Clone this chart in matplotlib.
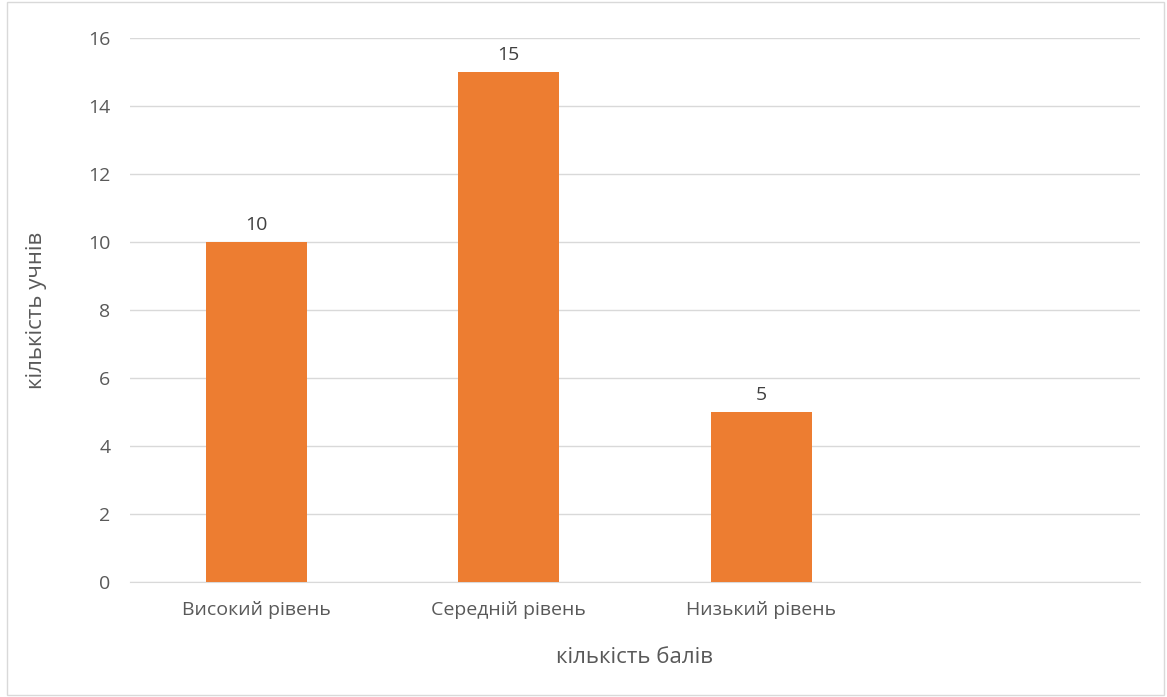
import numpy as np
import matplotlib.pyplot as plt
from matplotlib.patches import Rectangle

# chart data
categories = ['Високий рівень', 'Середній рівень', 'Низький рівень']
values = [10, 15, 5]
n_slots = 4  # Excel chart keeps an empty fourth category
y_ticks = [0, 2, 4, 6, 8, 10, 12, 14, 16]

bar_color = '#ED7D31'
text_color = '#595959'
grid_color = '#D9D9D9'

plt.rcParams['font.family'] = ['Open Sans', 'DejaVu Sans']

fig = plt.figure(figsize=(11.67, 6.97), dpi=100)
ax = fig.add_axes([130 / 1167, 115 / 697, 1010 / 1167, 544 / 697])

x = np.arange(len(categories))
bars = ax.bar(x, values, width=0.4, color=bar_color, zorder=3)

for rect, v in zip(bars, values):
    ax.annotate(str(v), (rect.get_x() + rect.get_width() / 2, v),
                xytext=(0, 6), textcoords='offset points',
                ha='center', va='bottom', fontsize=14, color='#404040')

ax.set_xlim(-0.5, n_slots - 0.5)
ax.set_ylim(0, 16)
ax.set_yticks(y_ticks)
ax.set_xticks(x)
ax.set_xticklabels(categories)
ax.tick_params(axis='both', length=0, labelsize=14, labelcolor=text_color)
ax.tick_params(axis='x', pad=14)
ax.tick_params(axis='y', pad=14)
ax.yaxis.grid(True, color=grid_color, linewidth=1, zorder=0)
for side in ['top', 'right', 'left']:
    ax.spines[side].set_visible(False)
ax.spines['bottom'].set_color(grid_color)

ax.set_xlabel('кількість балів', fontsize=16, color=text_color, labelpad=20)
ax.set_ylabel('кількість учнів', fontsize=16, color=text_color, labelpad=30)

# light frame around the chart area
fig.patches.append(Rectangle((7 / 1167, 2 / 697), 1157 / 1167, 693 / 697,
                             transform=fig.transFigure, fill=False,
                             edgecolor=grid_color, linewidth=1))

fig.savefig('out.png', dpi=100)
